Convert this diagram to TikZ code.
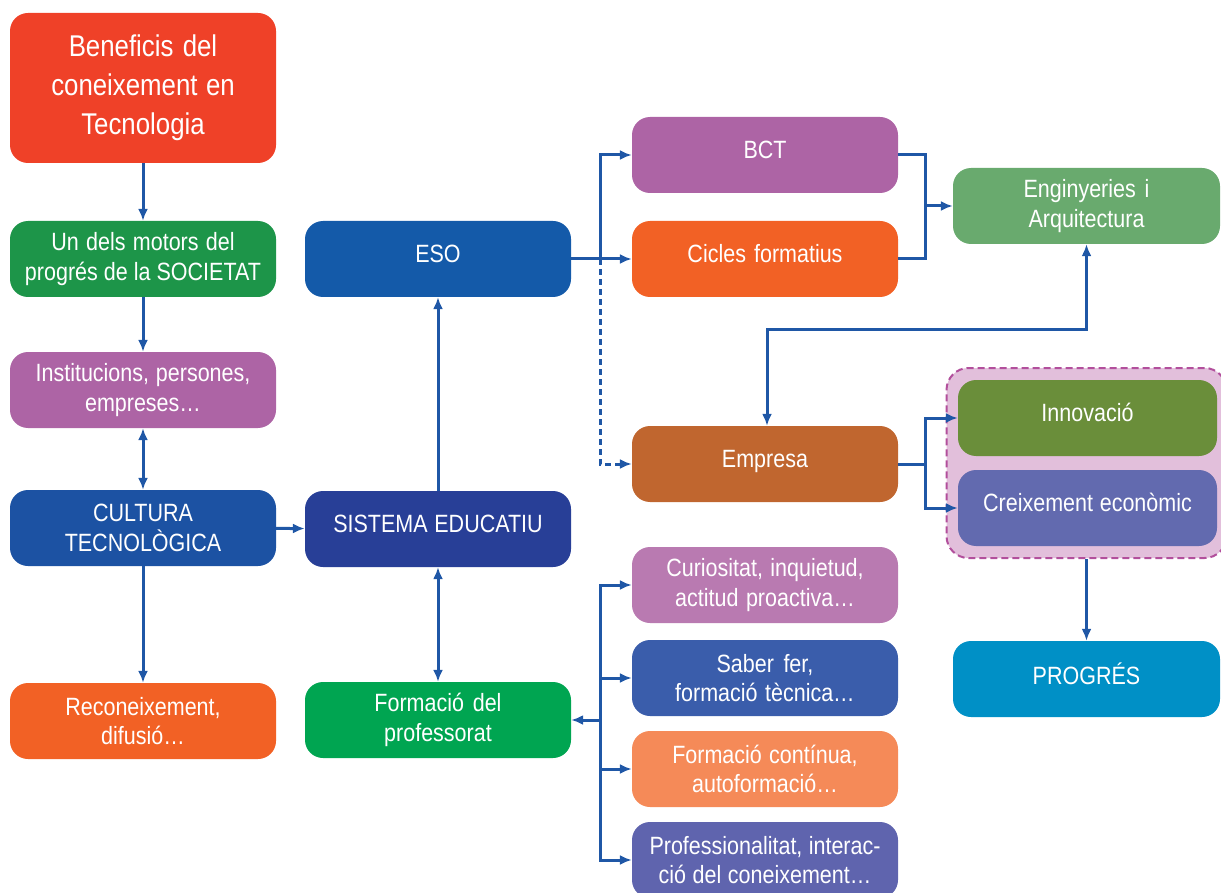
\documentclass[tikz,border=0pt]{standalone}
\usepackage{fontspec}
\setmainfont{Liberation Sans}[FakeStretch=0.86]
\usetikzlibrary{arrows.meta,positioning}
\definecolor{cRed}{HTML}{EF4128}
\definecolor{cMotor}{HTML}{1D9549}
\definecolor{cInst}{HTML}{AD64A5}
\definecolor{cCult}{HTML}{1C52A3}
\definecolor{cOrange}{HTML}{F26125}
\definecolor{cEso}{HTML}{145AA9}
\definecolor{cSist}{HTML}{283F97}
\definecolor{cForm}{HTML}{00A551}
\definecolor{cEmpr}{HTML}{C0662F}
\definecolor{cCurio}{HTML}{B97AB1}
\definecolor{cSaber}{HTML}{3A5DAB}
\definecolor{cFcont}{HTML}{F58A58}
\definecolor{cProf}{HTML}{5F64AE}
\definecolor{cEng}{HTML}{69AA6E}
\definecolor{cInnov}{HTML}{6A8E3A}
\definecolor{cCreix}{HTML}{626AAF}
\definecolor{cGrupFill}{HTML}{E2BFDB}
\definecolor{cGrupLine}{HTML}{B24F9C}
\definecolor{cProg}{HTML}{0090C6}
\definecolor{cLink}{HTML}{1F57A6}
\newcommand\tightspace{\spaceskip=0.22em plus 0.1em\relax}
\tikzset{%
	>={Latex[length=12pt,width=10pt]},
	box/.style={rectangle, rounded corners=18pt, minimum width=266pt, minimum height=76pt, text width=258pt, inner sep=0pt, align=center, text=white, font=\fontsize{25}{29.5}\selectfont, execute at begin node=\tightspace},
	single/.style={text depth=11pt},
	container/.style={rectangle, rounded corners=22pt, draw=cGrupLine, fill=cGrupFill, line width=2pt, dash pattern=on 7pt off 4pt},
	link/.style={draw=cLink, line width=3pt, ->},
	linkline/.style={draw=cLink, line width=3pt}
}
\begin{document}
\begin{tikzpicture}[x=1pt, y=-1pt]
\useasboundingbox (0,0) rectangle (1221,893);
% left column
\node (benef) [box, fill=cRed, minimum height=150pt, font=\fontsize{30}{39}\selectfont] at (143,88) {Beneficis del\\coneixement en\\Tecnologia};
\node (motors) [box, fill=cMotor] at (143,259) {Un dels motors del\\progrés de la SOCIETAT};
\node (instit) [box, fill=cInst] at (143,390) {Institucions, persones,\\empreses…};
\node (cultura) [box, fill=cCult] at (143,528) {CULTURA\\TECNOLÒGICA};
\node (recon) [box, fill=cOrange] at (143,721) {Reconeixement,\\difusió…};
% middle column
\node (eso) [box, single, fill=cEso] at (438,259) {ESO};
\node (sistema) [box, single, fill=cSist] at (438,529) {SISTEMA EDUCATIU};
\node (formacio) [box, fill=cForm] at (438,720) {Formació del\\professorat};
% right column
\node (bct) [box, single, fill=cInst] at (765,155) {BCT};
\node (cicles) [box, single, fill=cOrange] at (765,259) {Cicles formatius};
\node (empresa) [box, single, fill=cEmpr] at (765,464) {Empresa};
\node (curios) [box, fill=cCurio] at (765,585) {Curiositat, inquietud,\\actitud proactiva…};
\node (saber) [box, fill=cSaber] at (765,678) {Saber fer,\\formació tècnica…};
\node (fcont) [box, fill=cFcont] at (765,769) {Formació contínua,\\autoformació…};
\node (prof) [box, fill=cProf] at (765,860) {Professionalitat, interac-\\ció del coneixement…};
% far right
\node (enginy) [box, fill=cEng, minimum width=267pt] at (1086.5,206) {Enginyeries i\\Arquitectura};
\node (grup) [container, minimum width=280pt, minimum height=190pt] at (1086.5,463) {};
\node (innov) [box, single, fill=cInnov, minimum width=259pt] at (1087.5,418) {Innovació};
\node (creix) [box, single, fill=cCreix, minimum width=259pt] at (1087.5,508) {Creixement econòmic};
\node (progres) [box, single, fill=cProg, minimum width=267pt] at (1086.5,679) {PROGRÉS};

\coordinate (jeso) at (600,259);
\coordinate (jeng) at (925,206);
\coordinate (knee) at (767,330);
\coordinate (jemp) at (925,464);
\coordinate (jform) at (600,720);

\draw[link] (benef) -- (motors);
\draw[link] (motors) -- (instit);
\draw[link,<->] (instit) -- (cultura);
\draw[link] (cultura) -- (recon);
\draw[link] (cultura) -- (sistema);
\draw[link] (sistema) -- (eso);
\draw[link,<->] (sistema) -- (formacio);

\draw[link] (eso) -- (cicles);
\draw[link] (jeso) |- (bct);
\draw[link, dash pattern=on 6pt off 4pt] (jeso) |- (empresa);
\draw[linkline] (bct.east) -| (jeng) |- (cicles.east);
\draw[link] (jeng) -- (enginy);
\draw[link,<->] (empresa.north -| knee) -- (knee) -| (enginy.south);

\draw[linkline] (empresa) -- (jemp);
\draw[link] (jemp) |- (innov);
\draw[link] (jemp) |- (creix);
\draw[link] (grup.south) -- (progres);

\draw[link] (jform) -- (formacio);
\draw[link] (jform) |- (curios);
\draw[link] (jform) |- (saber);
\draw[link] (jform) |- (fcont);
\draw[link] (jform) |- (prof);

\end{tikzpicture}
\end{document}
